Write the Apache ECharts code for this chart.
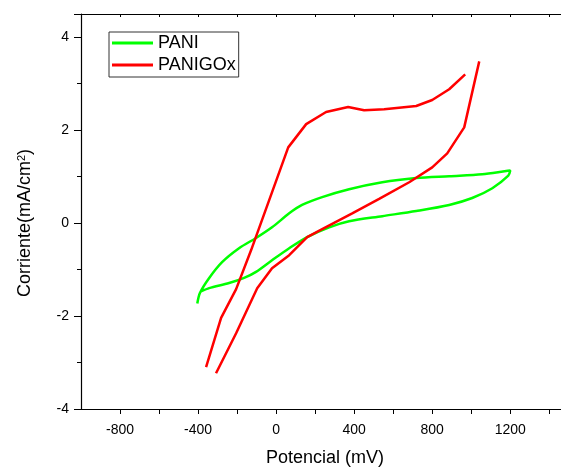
<!DOCTYPE html>
<html>
<head>
<meta charset="utf-8">
<script src="https://cdn.jsdelivr.net/npm/echarts@6/dist/echarts.min.js"></script>
<style>
html,body{margin:0;padding:0;background:#fff;}
#chart{width:561px;height:468px;}
</style>
</head>
<body>
<div id="chart"></div>
<script>
// PANI cyclic voltammogram (potential mV, current mA/cm2)
const paniPotential = [-404,-390,-343,-277,-190,-103,-21,67,133,236,374,544,718,887,1056,1179,1200,
  1190,1108,1005,887,718,544,374,272,159,67,-21,-103,-164,-241,-343,-385];
const paniCurrent = [-1.73,-1.50,-1.18,-0.84,-0.54,-0.32,-0.09,0.21,0.39,0.56,0.73,0.88,0.97,1.01,1.05,1.12,1.13,
  1.02,0.75,0.54,0.39,0.26,0.15,0.04,-0.09,-0.30,-0.54,-0.80,-1.05,-1.18,-1.29,-1.40,-1.47];
// PANIGOx branch A (left rising, upper plateau)
const goxAPotential = [-359,-282,-205,-128,62,154,256,369,451,554,718,800,887,969];
const goxACurrent = [-3.10,-2.04,-1.42,-0.58,1.63,2.13,2.39,2.50,2.43,2.45,2.52,2.65,2.88,3.20];
// PANIGOx branch B (lower branch)
const goxBPotential = [-308,-205,-97,-21,67,159,236,390,528,682,800,877,964,1041];
const goxBCurrent = [-3.23,-2.37,-1.40,-0.97,-0.69,-0.30,-0.13,0.21,0.52,0.88,1.20,1.50,2.06,3.48];
const seriesNames = ['PANI','PANIGOx'];
const xTickLabels = [-800,-400,0,400,800,1200];
const yTickLabels = [-4,-2,0,2,4];

const zip = (a,b) => a.map((v,i)=>[v,b[i]]);
const FONT = '"Liberation Sans", Arial, sans-serif';
const chart = echarts.init(document.getElementById('chart'));
chart.setOption({
  animation:false,
  backgroundColor:'#fff',
  grid:{left:81,right:0,top:14,bottom:59,containLabel:false,outerBoundsMode:'none'},
  legend:{
    data:seriesNames, orient:'vertical', left:109, top:32,
    icon:'rect', itemWidth:41, itemHeight:3, itemGap:4,
    borderColor:'#333', borderWidth:1, padding:[2,3,3,3],
    textStyle:{fontFamily:FONT,fontSize:18,color:'#000',lineHeight:18},
    align:'left'
  },
  xAxis:[{
    type:'value', min:-1000, max:1460, interval:200,
    axisLine:{show:true,onZero:false,lineStyle:{color:'#000',width:1.2}},
    axisTick:{show:true,inside:false,length:5,lineStyle:{color:'#000',width:1}},
    splitLine:{show:false},
    axisLabel:{fontFamily:FONT,fontSize:14,color:'#000',margin:14,
      showMinLabel:false, showMaxLabel:false,
      formatter:v => xTickLabels.indexOf(v) >= 0 ? String(v) : ''},
    name:'Potencial (mV)', nameLocation:'middle', nameGap:40,
    nameTextStyle:{fontFamily:FONT,fontSize:18,color:'#000',padding:[0,0,0,8]}
  },{
    type:'value', position:'top', min:-1000, max:1460, interval:200,
    axisLine:{show:true,onZero:false,lineStyle:{color:'#000',width:1.2}},
    axisTick:{show:true,inside:true,length:3,lineStyle:{color:'#000',width:1}},
    axisLabel:{show:false}, splitLine:{show:false}
  }],
  yAxis:{
    type:'value', min:-4, max:4.5, interval:2,
    axisLine:{show:true,onZero:false,lineStyle:{color:'#000',width:1.2}},
    axisTick:{show:true,length:7,lineStyle:{color:'#000',width:1}},
    minorTick:{show:true,splitNumber:2,length:4,lineStyle:{color:'#000',width:1}},
    splitLine:{show:false}, minorSplitLine:{show:false},
    axisLabel:{fontFamily:FONT,fontSize:14,color:'#000',margin:12,showMaxLabel:false,
      formatter:v => yTickLabels.indexOf(v) >= 0 ? String(v) : ''},
    name:'{n|Corriente(mA/cm}{s|2}{n|)}', nameLocation:'middle', nameGap:46,
    nameTextStyle:{padding:[0,23,0,0],
      rich:{n:{fontFamily:FONT,fontSize:18,color:'#000'},
            s:{fontFamily:FONT,fontSize:11,color:'#000',verticalAlign:'top',padding:[0,0,8,0]}}}
  },
  series:[
    {name:seriesNames[0], type:'line', data:zip(paniPotential,paniCurrent), smooth:0.3,
     showSymbol:false, lineStyle:{color:'#00ff00',width:2.5}, itemStyle:{color:'#00ff00'}},
    {name:seriesNames[1], type:'line', data:zip(goxAPotential,goxACurrent), smooth:false,
     showSymbol:false, lineStyle:{color:'#ff0000',width:2.5}, itemStyle:{color:'#ff0000'}},
    {name:seriesNames[1], type:'line', data:zip(goxBPotential,goxBCurrent), smooth:false,
     showSymbol:false, lineStyle:{color:'#ff0000',width:2.5}, itemStyle:{color:'#ff0000'}}
  ]
});
</script>
</body>
</html>
